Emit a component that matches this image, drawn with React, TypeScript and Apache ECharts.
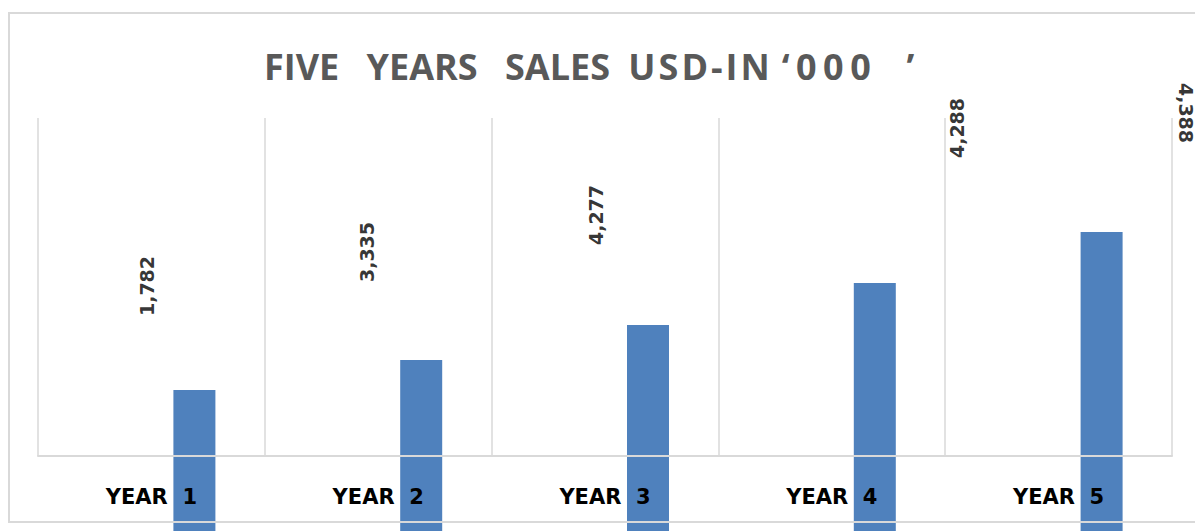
import React, { useEffect, useRef } from "react";
import * as echarts from "echarts";

// ---- data ----
const TITLE_PARTS = ["FIVE YEARS SALES", " USD-IN", " ‘000", " ’"];
const TITLE = TITLE_PARTS.join("");
const categories = ["YEAR 1", "YEAR 2", "YEAR 3", "YEAR 4", "YEAR 5"];
// visible bar heights (bars run past the bottom of the frame)
const barValues = [2300, 2600, 2950, 3370, 3880];
// data labels as printed on the chart
const labelValues = [1782, 3335, 4277, 4288, 4388];
// where each printed label sits (category units, value units)
const labelAt = [0.48, 1.45, 2.46, 4.05, 5.06];
const labelHeight = [1700, 2040, 2410, 3280, 3430];

const PART_STYLES = [
  "word-spacing:18px",
  "letter-spacing:3px;word-spacing:6px",
  "letter-spacing:6.5px;word-spacing:-7px",
  "word-spacing:20px",
];

export default function App() {
  const ref = useRef<HTMLDivElement>(null);
  useEffect(() => {
    if (!ref.current) return;
    const chart = echarts.init(ref.current, undefined, { renderer: "svg" });
    const grey = "#d9d9d9";
    const option: any = {
      animation: false,
      grid: [
        { left: 38, top: 118, width: 1134, height: 338 },
        { left: 81, top: 118, width: 1134, height: 502 },
      ],
      xAxis: [
        {
          type: "category",
          gridIndex: 0,
          data: categories,
          boundaryGap: true,
          z: 10,
          axisLine: { show: true, lineStyle: { color: grey, width: 2 } },
          axisTick: { show: false },
          splitLine: { show: true, lineStyle: { color: grey, width: 1.5 } },
          axisLabel: {
            margin: 30,
            fontFamily: "DejaVu Sans",
            fontWeight: "bold",
            fontSize: 21,
            color: "#000",
            formatter: (v: string) => v.replace(" ", "  "),
          },
        },
        { type: "category", gridIndex: 1, data: categories, show: false },
        { type: "value", gridIndex: 0, min: 0, max: 5, show: false },
      ],
      yAxis: [
        { type: "value", gridIndex: 0, min: 0, max: 3380, show: false },
        { type: "value", gridIndex: 1, min: 0, max: 5020, show: false },
      ],
      series: [
        {
          type: "bar",
          xAxisIndex: 1,
          yAxisIndex: 1,
          data: barValues,
          barWidth: 42,
          itemStyle: { color: "#4F81BD" },
        },
        {
          type: "scatter",
          xAxisIndex: 2,
          yAxisIndex: 0,
          clip: false,
          symbolSize: 1,
          itemStyle: { color: "transparent" },
          z: 5,
          data: labelValues.map((v, i) => ({
            value: [labelAt[i], labelHeight[i]],
            label: { rotate: i === labelValues.length - 1 ? -90 : 90 },
          })),
          label: {
            show: true,
            position: "inside",
            rotate: 90,
            fontFamily: "DejaVu Sans",
            fontWeight: "bold",
            fontSize: 19,
            color: "#000",
            formatter: (p: any) => labelValues[p.dataIndex].toLocaleString("en-US"),
          },
        },
      ],
      graphic: [
        {
          type: "text",
          x: 264,
          y: 66,
          z: 100,
          silent: true,
          style: {
            text: TITLE,
            font: 'bold 36px "Open Sans"',
            fill: "#595959",
            textAlign: "left",
            textVerticalAlign: "middle",
            align: "left",
            verticalAlign: "middle",
          },
        },
        {
          type: "rect",
          z: 100,
          silent: true,
          shape: { x: 9, y: 13, width: 1300, height: 509 },
          style: { fill: "none", stroke: grey, lineWidth: 2 },
        },
      ],
    };
    chart.setOption(option);

    const applySpacing = () => {
      const root = ref.current;
      if (!root) return;
      root.querySelectorAll("text").forEach((t) => {
        if (t.textContent === TITLE && !t.querySelector("tspan")) {
          (t as SVGTextElement).style.whiteSpace = "pre";
          t.setAttribute("xml:space", "preserve");
          while (t.firstChild) t.removeChild(t.firstChild);
          const ns = "http://www.w3.org/2000/svg";
          TITLE_PARTS.forEach((part, i) => {
            const s = document.createElementNS(ns, "tspan");
            s.setAttribute("style", PART_STYLES[i]);
            s.textContent = part;
            t.appendChild(s);
          });
        }
      });
    };
    applySpacing();
    chart.on("finished", applySpacing);
    const raf = requestAnimationFrame(applySpacing);
    const to = setTimeout(applySpacing, 30);
    return () => {
      cancelAnimationFrame(raf);
      clearTimeout(to);
      chart.dispose();
    };
  }, []);
  return (
    <div
      style={{
        position: "fixed",
        left: 0,
        top: 0,
        width: 1195,
        height: 531,
        overflow: "hidden",
        background: "#fff",
      }}
    >
      <div ref={ref} style={{ width: 1240, height: 620 }} />
    </div>
  );
}
